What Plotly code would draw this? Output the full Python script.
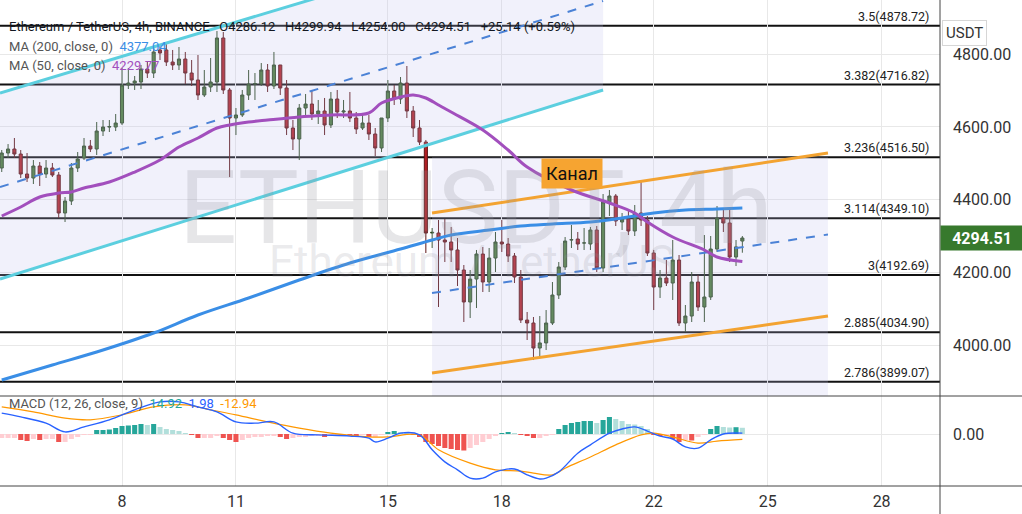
import pandas as pd
import plotly.graph_objects as go

W, H = 1022, 514

# ---------------- data (ETH/USDT 4h, Binance, Nov 2021) ----------------
open_ = [4487.1, 4528.4, 4539.4, 4525.6, 4470.6, 4459.6, 4492.6, 4470.6, 4487.1, 4467.8,
         4363.3, 4396.3, 4487.1, 4514.6, 4547.6, 4539.4, 4588.9, 4599.9, 4599.9, 4610.9,
         4715.5, 4721.0, 4723.8, 4759.5, 4748.5, 4811.9, 4811.9, 4778.8, 4770.6, 4787.1,
         4748.5, 4729.3, 4688.0, 4710.0, 4723.8, 4844.9, 4701.8, 4624.7, 4633.0, 4688.0,
         4718.3, 4718.3, 4756.8, 4712.8, 4770.6, 4707.3, 4597.2, 4566.9, 4652.2, 4663.2,
         4635.7, 4644.0, 4605.5, 4677.0, 4641.2, 4644.0, 4624.7, 4597.2, 4610.9, 4580.7,
         4542.2, 4624.7, 4699.0, 4677.0, 4721.0, 4644.0, 4597.2, 4558.6, 4308.2, 4308.2,
         4289.0, 4283.5, 4261.5, 4206.4, 4118.4, 4181.6, 4250.4, 4173.4, 4239.4, 4283.5,
         4278.0, 4245.0, 4187.2, 4068.8, 4060.6, 3991.7, 4005.7, 4060.6, 4137.6, 4214.7,
         4288.9, 4291.7, 4280.7, 4278.0, 4316.5, 4211.9, 4393.6, 4410.1, 4338.5, 4346.8,
         4313.8, 4363.3, 4344.0, 4253.2, 4159.6, 4184.4, 4170.6, 4233.9, 4060.6, 4079.8,
         4173.4, 4104.6, 4132.1, 4264.2, 4349.5, 4335.8, 4242.2, 4286.12]
high = [4536.6, 4553.0, 4569.7, 4536.6, 4528.4, 4509.1, 4503.6, 4509.1, 4500.9, 4476.1,
        4407.3, 4500.9, 4531.1, 4569.7, 4564.2, 4613.7, 4619.2, 4619.2, 4635.7, 4762.3,
        4762.3, 4740.3, 4770.6, 4778.8, 4822.9, 4825.6, 4828.4, 4811.9, 4820.1, 4806.4,
        4784.3, 4798.1, 4756.8, 4789.8, 4864.1, 4861.4, 4707.3, 4652.2, 4701.8, 4756.8,
        4748.5, 4776.0, 4773.3, 4806.4, 4770.6, 4729.3, 4619.2, 4663.2, 4690.8, 4701.8,
        4674.3, 4679.8, 4696.3, 4701.8, 4674.3, 4696.3, 4641.2, 4638.5, 4633.0, 4597.2,
        4624.7, 4729.3, 4715.5, 4737.5, 4767.8, 4657.7, 4619.2, 4564.2, 4322.0, 4344.0,
        4346.8, 4324.8, 4294.5, 4220.2, 4206.4, 4261.5, 4269.7, 4267.0, 4311.0, 4344.0,
        4294.5, 4253.2, 4206.4, 4090.9, 4077.1, 4079.8, 4096.3, 4173.4, 4228.4, 4297.2,
        4330.3, 4311.0, 4322.0, 4324.8, 4327.5, 4415.5, 4426.6, 4415.5, 4363.3, 4371.5,
        4385.3, 4448.6, 4355.0, 4261.5, 4206.4, 4233.9, 4289.0, 4247.7, 4110.1, 4200.9,
        4192.7, 4302.7, 4300.0, 4382.5, 4377.0, 4371.5, 4289.0, 4299.94]
low = [4476.1, 4514.6, 4514.6, 4459.6, 4448.6, 4443.1, 4437.6, 4459.6, 4462.3, 4349.5,
       4338.5, 4385.3, 4476.1, 4509.1, 4531.1, 4522.9, 4575.2, 4586.2, 4588.9, 4605.5,
       4704.5, 4701.8, 4704.5, 4734.8, 4734.8, 4784.3, 4767.8, 4756.8, 4756.8, 4718.3,
       4712.8, 4674.3, 4682.5, 4696.3, 4696.3, 4690.8, 4462.3, 4577.9, 4627.5, 4674.3,
       4674.3, 4712.8, 4696.3, 4704.5, 4688.0, 4577.9, 4536.6, 4509.1, 4633.0, 4619.2,
       4608.2, 4577.9, 4597.2, 4624.7, 4624.7, 4613.7, 4580.7, 4591.7, 4564.2, 4520.1,
       4531.1, 4613.7, 4660.5, 4663.2, 4624.7, 4572.4, 4550.4, 4253.2, 4267.0, 4104.6,
       4228.4, 4228.4, 4162.4, 4063.3, 4074.3, 4101.8, 4145.9, 4145.9, 4200.9, 4256.0,
       4228.4, 4170.6, 4060.6, 4013.8, 3958.7, 3964.2, 3986.2, 4055.1, 4126.6, 4206.4,
       4267.0, 4261.5, 4261.5, 4261.5, 4200.9, 4200.9, 4355.0, 4327.5, 4316.5, 4302.7,
       4300.0, 4327.5, 4245.0, 4096.3, 4129.4, 4162.4, 4123.9, 4052.3, 4035.8, 4063.3,
       4093.6, 4063.3, 4123.9, 4256.0, 4311.0, 4228.4, 4217.4, 4254.00]
close = [4528.4, 4539.4, 4525.6, 4470.6, 4459.6, 4492.6, 4470.6, 4487.1, 4467.8, 4363.3,
         4396.3, 4487.1, 4511.9, 4547.6, 4539.4, 4588.9, 4599.9, 4601.0, 4610.9, 4715.5,
         4721.0, 4726.5, 4759.5, 4748.5, 4806.4, 4803.6, 4778.8, 4770.6, 4787.1, 4748.5,
         4729.3, 4688.0, 4710.0, 4723.8, 4844.9, 4701.8, 4624.7, 4633.0, 4688.0, 4718.3,
         4719.0, 4756.8, 4712.8, 4770.6, 4707.3, 4597.2, 4566.9, 4652.2, 4663.2, 4635.7,
         4644.0, 4605.5, 4677.0, 4641.2, 4644.0, 4624.7, 4594.4, 4610.9, 4580.7, 4542.2,
         4624.7, 4699.0, 4677.0, 4721.0, 4644.0, 4597.2, 4558.6, 4308.2, 4310.0, 4289.0,
         4283.5, 4261.5, 4206.4, 4118.4, 4181.6, 4250.4, 4173.4, 4239.4, 4283.5, 4278.0,
         4245.0, 4187.2, 4068.8, 4060.6, 3991.7, 4005.7, 4060.6, 4137.6, 4214.7, 4286.2,
         4290.0, 4278.0, 4281.0, 4316.5, 4211.9, 4393.6, 4410.1, 4341.3, 4346.8, 4313.8,
         4363.3, 4344.0, 4253.2, 4159.6, 4184.4, 4170.6, 4233.9, 4060.6, 4079.8, 4173.4,
         4104.6, 4132.1, 4264.2, 4349.5, 4335.8, 4242.2, 4270.0, 4294.51]
first_bar = "2021-11-04 20:00"

# moving averages read at selected bars (bar index, value)
ma200_idx = [0, 8, 16, 24, 31, 39, 47, 55, 63, 68, 71, 77, 82, 87, 93, 98, 103, 108, 113, 117]
ma200_val = [3903.7, 3944.9, 3986.2, 4033.0, 4082.6, 4129.4, 4178.9, 4225.7, 4264.2, 4289.0,
             4302.7, 4316.5, 4327.5, 4333.0, 4338.5, 4349.5, 4363.3, 4371.5, 4374.3, 4377.04]
ma50_idx = [0, 3, 6, 9, 11, 13, 17, 21, 25, 28, 31, 34, 36, 39, 42, 47, 52, 58, 60, 63, 65,
            67, 69, 71, 76, 80, 83, 90, 96, 100, 102, 106, 111, 113, 117]
ma50_val = [4355.0, 4379.8, 4407.3, 4418.3, 4421.1, 4432.1, 4448.6, 4476.1, 4509.1, 4544.9,
            4569.7, 4597.2, 4605.5, 4613.7, 4619.2, 4627.5, 4633.0, 4638.5, 4666.0, 4682.5,
            4688.0, 4679.8, 4660.5, 4641.2, 4591.7, 4536.6, 4489.8, 4426.6, 4390.8, 4363.3,
            4338.5, 4297.2, 4261.5, 4242.2, 4229.77]

# MACD (12, 26, close, 9)
macd_hist = [-9.6, -9.6, -9.6, -14.4, -16.8, -12, -14.4, -12, -12, -19.2, -19.2, -12, -7.2, -2.4, -1.2,
             9.6, 9.6, 10.8, 14.4, 19.2, 20.4, 21.6, 24, 21.6, 24, 16.8, 12, 9.6, 7.2, 2.4,
             -2.4, -9.6, -9.6, -9.6, -4.8, -9.6, -14.4, -19.2, -14.4, -9.6, -7.2, -7.2, -4.8, -4.8, -7.2,
             -12, -9.6, -7.2, -7.2, -4.8, -4.8, -7.2, -2.4, -1.2, -1.2, -2.4, -4.8, -2.4, -7.2, -7.2,
             -1.2, 4.8, 7.2, 4.8, 2.4, -2.4, -7.2, -19.2, -24, -28.8, -33.6, -36, -38.4, -39.6, -33.6,
             -26.4, -19.2, -12, -4.8, 2.4, 3.6, 2.4, -2.4, -4.8, -9.6, -9.6, -4.8, -0.7, 12, 21.6,
             26.4, 28.8, 31.2, 31.2, 26.4, 33.6, 40.8, 36, 31.2, 24, 22.8, 19.2, 12, -2.4, -4.8,
             -3.6, -12, -19.2, -14.4, -15.6, -7.2, -2.4, 12, 19.2, 16.8, 15.6, 16.3, 14.92]
macd_idx = [0, 3, 7, 10, 13, 17, 21, 25, 28, 31, 34, 37, 40, 43, 46, 50, 55, 58, 59, 61, 63, 66,
            68, 70, 72, 74, 76, 78, 81, 83, 85, 86, 88, 91, 93, 96, 98, 100, 102, 104, 106, 108,
            110, 112, 114, 117]
macd_val = [50, 41, 26, 5, 17, 34, 58, 77, 77, 65, 53, 29, 26, 29, 2, -2, -5, -10, -19, -10, 2, -2,
            -38, -67, -86, -106, -106, -91, -84, -98, -108, -106, -91, -46, -26, 2, 12, 17, 7, -5,
            -12, -31, -34, -14, 0, 1.98]
signal_idx = [0, 5, 10, 14, 19, 24, 29, 33, 37, 42, 47, 52, 58, 61, 66, 69, 74, 78, 82, 84, 87,
              89, 93, 97, 101, 103, 106, 110, 113, 117]
signal_val = [65, 53, 38, 34, 46, 65, 70, 58, 46, 29, 14, 2, -7, -7, -2, -38, -70, -86, -89, -94,
              -98, -82, -55, -26, -2, 2, -7, -22, -17, -12.94]

# Fibonacci extension levels
fib_ratio = ["3.5", "3.382", "3.236", "3.114", "3", "2.885", "2.786"]
fib_price = [4878.72, 4716.82, 4516.50, 4349.10, 4192.69, 4034.90, 3899.07]

# drawn channels: (time, price) end points
cyan_t = ["2021-11-04 18:54", "2021-11-20 16:00"]
cyan_upper = [4693.5, 5191.6]
cyan_lower = [4181.6, 4701.8]
cyan_mid = [4434.8, 4946.7]
orange_t = ["2021-11-16 03:54", "2021-11-26 14:06"]
orange_upper = [4363.3, 4528.4]
orange_lower = [3922.9, 4079.8]
orange_mid = [4143.1, 4304.1]
orange_box = [4516.5, 3859.7]   # shaded price range behind the orange channel

day_ticks = ["2021-11-08", "2021-11-11", "2021-11-15", "2021-11-18", "2021-11-22",
             "2021-11-25", "2021-11-28"]
day_text = ["8", "11", "15", "18", "22", "25", "28"]
price_ticks = [4000, 4200, 4400, 4600, 4800]
x_range = ["2021-11-04 18:54", "2021-11-29 12:54"]

# ---------------- figure ----------------
times = pd.date_range(first_bar, periods=len(open_), freq="4h")

def px(x):
    return x / W

def py(y):
    return 1 - y / H

fig = go.Figure()
FONT = "Roboto"
SHADE = "rgba(190,190,235,0.22)"

# channel fills
fig.add_trace(go.Scatter(
    x=[cyan_t[0], cyan_t[1], cyan_t[1], cyan_t[0], cyan_t[0]],
    y=[cyan_upper[0], cyan_upper[1], cyan_lower[1], cyan_lower[0], cyan_upper[0]],
    fill="toself", fillcolor=SHADE, line=dict(width=0),
    mode="lines", hoverinfo="skip", xaxis="x", yaxis="y2"))
fig.add_trace(go.Scatter(
    x=[orange_t[0], orange_t[1], orange_t[1], orange_t[0], orange_t[0]],
    y=[orange_box[0], orange_box[0], orange_box[1], orange_box[1], orange_box[0]],
    fill="toself", fillcolor=SHADE, line=dict(width=0),
    mode="lines", hoverinfo="skip", xaxis="x", yaxis="y2"))

# channel lines
for ys, col, dash, w in [(cyan_upper, "#5ccfdf", "solid", 3), (cyan_lower, "#5ccfdf", "solid", 3),
                          (cyan_mid, "#4b82d6", "dash", 2)]:
    fig.add_trace(go.Scatter(x=cyan_t, y=ys, mode="lines", line=dict(color=col, width=w, dash=dash),
                             hoverinfo="skip", xaxis="x", yaxis="y2"))
for ys, col, dash, w in [(orange_upper, "#f3a331", "solid", 3), (orange_lower, "#f3a331", "solid", 3),
                          (orange_mid, "#4b82d6", "dash", 2)]:
    fig.add_trace(go.Scatter(x=orange_t, y=ys, mode="lines", line=dict(color=col, width=w, dash=dash),
                             hoverinfo="skip", xaxis="x", yaxis="y2"))

# moving averages
fig.add_trace(go.Scatter(x=[times[i] for i in ma200_idx], y=ma200_val, mode="lines",
                         line=dict(color="#3a8ee6", width=3, shape="spline"), xaxis="x", yaxis="y2"))
fig.add_trace(go.Scatter(x=[times[i] for i in ma50_idx], y=ma50_val, mode="lines",
                         line=dict(color="#a24fbd", width=3, shape="spline"), xaxis="x", yaxis="y2"))

# candles
fig.add_trace(go.Candlestick(
    x=times, open=open_, high=high, low=low, close=close,
    increasing=dict(fillcolor="#4b7b38", line=dict(color="#2d4a22", width=1)),
    decreasing=dict(fillcolor="#b32025", line=dict(color="#5e1515", width=1)),
    whiskerwidth=0, xaxis="x", yaxis="y2"))

# MACD histogram colors (TradingView convention)
hist_colors = []
for i, v in enumerate(macd_hist):
    prev = macd_hist[i - 1] if i > 0 else v
    if v >= 0:
        hist_colors.append("#26a69a" if v >= prev else "#b2dfdb")
    else:
        hist_colors.append("#ffcdd2" if v >= prev else "#ef5350")
fig.add_trace(go.Bar(x=times, y=macd_hist, marker=dict(color=hist_colors, line=dict(width=0)),
                     width=4 * 3600 * 1000 * 0.8, xaxis="x", yaxis="y"))
fig.add_trace(go.Scatter(x=[times[i] for i in signal_idx], y=signal_val, mode="lines",
                         line=dict(color="#ff9800", width=1.2, shape="spline"), xaxis="x", yaxis="y"))
fig.add_trace(go.Scatter(x=[times[i] for i in macd_idx], y=macd_val, mode="lines",
                         line=dict(color="#2962ff", width=1.4, shape="spline"), xaxis="x", yaxis="y"))

shapes = []
annotations = []
# fib levels
for r, p in zip(fib_ratio, fib_price):
    shapes.append(dict(type="line", xref="x domain", x0=0, x1=1, yref="y2", y0=p, y1=p,
                       line=dict(color="#111111", width=2), layer="below"))
    annotations.append(dict(xref="paper", x=px(931), xanchor="right", yref="y2", y=p,
                            yanchor="bottom", yshift=0, text=f"{r}({p:.2f})", showarrow=False,
                            font=dict(family=FONT, size=12.5, color="#222222")))

# pane separators
shapes += [
    dict(type="line", xref="paper", yref="paper", x0=px(940), x1=px(940), y0=0, y1=1,
         line=dict(color="#444444", width=1)),
    dict(type="line", xref="paper", yref="paper", x0=0, x1=1, y0=py(396), y1=py(396),
         line=dict(color="#444444", width=1)),
    dict(type="line", xref="paper", yref="paper", x0=0, x1=1, y0=py(486), y1=py(486),
         line=dict(color="#444444", width=1)),
]

# watermarks
annotations.append(dict(xref="paper", yref="paper", x=px(476), y=py(146), text="ETHUSDT, 4h",
                        showarrow=False, font=dict(family=FONT, size=102, color="rgba(150,150,160,0.24)")))
annotations.append(dict(xref="paper", yref="paper", x=px(472), y=py(262), text="Ethereum / TetherUS",
                        showarrow=False, font=dict(family=FONT, size=44, color="rgba(150,150,160,0.2)")))

# legends
annotations.append(dict(xref="paper", yref="paper", x=px(7), y=py(17), xanchor="left",
                        text="Ethereum / TetherUS, 4h, BINANCE   O4286.12   H4299.94   L4254.00   C4294.51   +25.14 (+0.59%)",
                        showarrow=False, font=dict(family=FONT, size=13, color="#131722")))
annotations.append(dict(xref="paper", yref="paper", x=px(7), y=py(37), xanchor="left",
                        text="MA (200, close, 0)  <span style='color:#3a8ee6'>4377.04</span>",
                        showarrow=False, font=dict(family=FONT, size=13, color="#555555")))
annotations.append(dict(xref="paper", yref="paper", x=px(7), y=py(56), xanchor="left",
                        text="MA (50, close, 0)  <span style='color:#a24fbd'>4229.77</span>",
                        showarrow=False, font=dict(family=FONT, size=13, color="#555555")))
annotations.append(dict(xref="paper", yref="paper", x=px(7), y=py(413), xanchor="left",
                        text="MACD (12, 26, close, 9)  <span style='color:#26a69a'>14.92</span>  "
                             "<span style='color:#2962ff'>1.98</span>  <span style='color:#ff9800'>-12.94</span>",
                        showarrow=False, font=dict(family=FONT, size=13, color="#555555")))

# channel label
annotations.append(dict(xref="paper", yref="paper", x=px(572), y=py(173), text="Канал",
                        showarrow=False, bgcolor="#f6a431", borderpad=4,
                        font=dict(family=FONT, size=18, color="#111111")))
# USDT button
annotations.append(dict(xref="paper", yref="paper", x=px(987), y=py(20), text="USDT",
                        showarrow=False, bgcolor="#ffffff", bordercolor="#d6d6d6", borderwidth=1,
                        borderpad=3, font=dict(family=FONT, size=15, color="#333333")))
# last price label
annotations.append(dict(xref="paper", x=px(940), xanchor="left", yref="y2", y=close[-1],
                        text=f"<b>{close[-1]:.2f}</b>", showarrow=False, bgcolor="#37792d",
                        width=78, height=20, borderpad=2,
                        font=dict(family=FONT, size=16, color="#ffffff")))

fig.update_layout(
    width=W, height=H, margin=dict(l=0, r=0, t=0, b=0),
    paper_bgcolor="#ffffff", plot_bgcolor="#ffffff", showlegend=False,
    shapes=shapes, annotations=annotations,
    xaxis=dict(domain=[0, px(940)], type="date", range=x_range, anchor="y",
               tickvals=day_ticks, ticktext=day_text, showgrid=True, gridcolor="#e8e8e8",
               ticks="", zeroline=False, showline=False, rangeslider=dict(visible=False),
               tickfont=dict(family=FONT, size=16, color="#333333"), ticklabelstandoff=4,
               fixedrange=True),
    yaxis=dict(domain=[py(486), py(396)], range=[-124.8, 91.2], side="right", anchor="x",
               tickvals=[0], tickformat=".2f", showgrid=True, gridcolor="#e8e8e8",
               zeroline=False, ticks="", showline=False, ticklabelstandoff=12,
               tickfont=dict(family=FONT, size=16, color="#333333")),
    yaxis2=dict(domain=[py(396), 1], range=[3859.7, 4949.45], side="right", anchor="x",
                tickvals=price_ticks, tickformat=".2f", showgrid=True, gridcolor="#e8e8e8",
                zeroline=False, ticks="", showline=False, ticklabelstandoff=12,
                tickfont=dict(family=FONT, size=16, color="#333333")),
)

fig.write_html("out.html", config={"displayModeBar": False},
               post_script="document.body.style.margin='0px';")
